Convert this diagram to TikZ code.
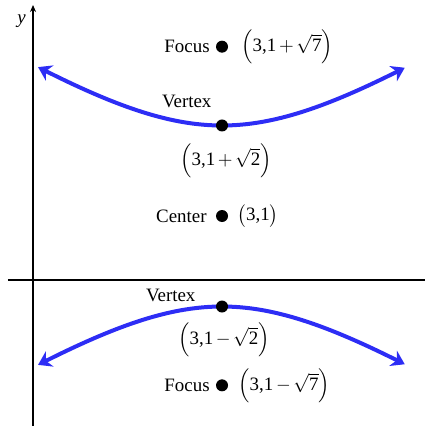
\documentclass[tikz,border=0pt]{standalone}
\usepackage{mathptmx}
\usepackage[no-math]{fontspec}
\setmainfont{Liberation Serif}
\usetikzlibrary{positioning, arrows.meta}
\definecolor{curve}{RGB}{45,45,245}

\begin{document}
\begin{tikzpicture}[
  x=63bp, y=64bp,
  dot/.style={circle, fill=black, inner sep=0pt, minimum size=12bp},
  lbl/.style={inner sep=0pt, font=\fontsize{19}{22}\selectfont},
  axis/.style={draw=black, line width=1.3bp},
  branch/.style={draw=curve, line width=4bp,
                 {Stealth[length=13bp,width=17bp]}-{Stealth[length=13bp,width=17bp]},
                 domain=0.08:5.9, samples=80, smooth}
]
  \useasboundingbox (-0.524,-2.281) rectangle (6.222,4.375);
  \coordinate (xl) at (-0.4,0);
  \coordinate (xr) at (6.222,0);
  \coordinate (yb) at (0,-2.281);
  \coordinate (yt) at (0,4.297);
  \draw[axis] (xl) -- (xr);
  \draw[axis, -{Stealth[length=7bp,width=6bp]}] (yb) -- (yt);
  \node[lbl, below left=10bp and 7bp of yt] (ylab) {\itshape y};

  \draw[branch] plot (\x, {1+sqrt(2*(1+(\x-3)^2/5))});
  \draw[branch] plot (\x, {1-sqrt(2*(1+(\x-3)^2/5))});

  \node[dot] (F1) at (3,{1+sqrt(7)}) {};
  \node[dot] (V1) at (3,{1+sqrt(2)}) {};
  \node[dot] (C) at (3,1) {};
  \node[dot] (V2) at (3,{1-sqrt(2)}) {};
  \node[dot] (F2) at (3,{1-sqrt(7)}) {};

  \node[lbl, left=6bp of F1] (F1name) {Focus};
  \node[lbl, right=13bp of F1] (F1pt) {$\Bigl(\textrm{3,1}+\sqrt{\textrm{7}}\Bigr)$};
  \node[lbl, above left=13bp and 6bp of V1] (V1name) {Vertex};
  \node[lbl, below=12bp of V1, xshift=4bp] (V1pt) {$\Bigl(\textrm{3,1}+\sqrt{\textrm{2}}\Bigr)$};
  \node[lbl, left=9bp of C] (Cname) {Center};
  \node[lbl, right=9bp of C] (Cpt) {$\bigl(\textrm{3,1}\bigr)$};
  \node[lbl, above left=0bp and 22bp of V2] (V2name) {Vertex};
  \node[lbl, below=10bp of V2, xshift=2bp] (V2pt) {$\Bigl(\textrm{3,1}-\sqrt{\textrm{2}}\Bigr)$};
  \node[lbl, left=6bp of F2] (F2name) {Focus};
  \node[lbl, right=10bp of F2] (F2pt) {$\Bigl(\textrm{3,1}-\sqrt{\textrm{7}}\Bigr)$};
\end{tikzpicture}
\end{document}
